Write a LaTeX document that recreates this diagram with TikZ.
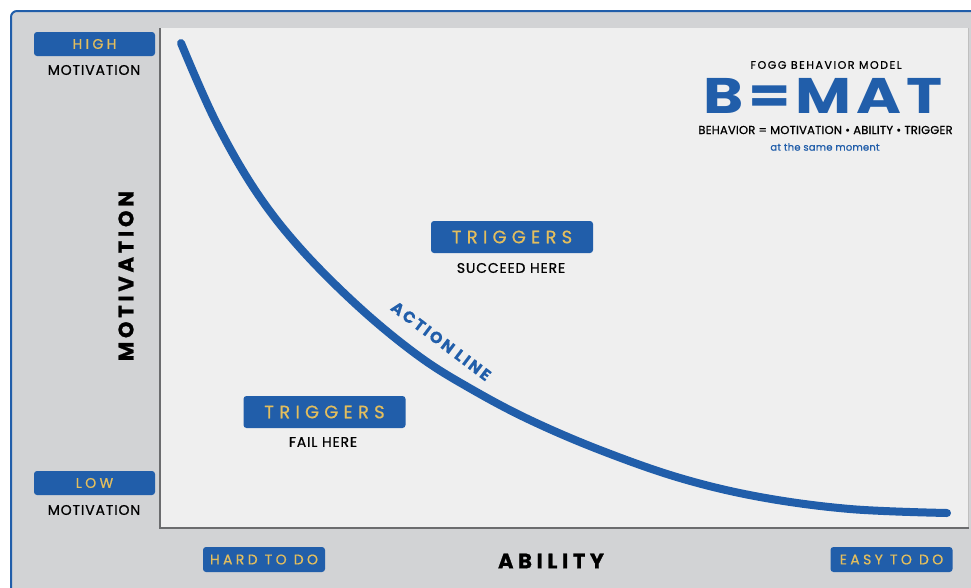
\documentclass[tikz,border=0pt]{standalone}
\usepackage{fontspec}
\setmainfont{Poppins}
\newfontfamily\fwide[LetterSpace=24,FakeBold=0.6]{Poppins}
\newfontfamily\fbig[LetterSpace=29,FakeBold=0.6]{Poppins}
\newfontfamily\fsemi[LetterSpace=6,FakeBold=0.8]{Poppins}
\newfontfamily\ftitle[LetterSpace=14,FakeBold=0.8]{Poppins}
\newfontfamily\feq[LetterSpace=2,FakeBold=0.8]{Poppins}
\newfontfamily\fact[LetterSpace=15,FakeBold=0.4]{Poppins}
\newfontfamily\fbold[LetterSpace=18,FakeBold=1]{Poppins}
\newfontfamily\fabil[LetterSpace=22,FakeBold=1]{Poppins}
\newfontfamily\fmat[LetterSpace=8]{Poppins}
\definecolor{bmblue}{HTML}{215EAA}
\definecolor{bmgold}{HTML}{E3BE5E}
\definecolor{bggray}{HTML}{D2D3D5}
\definecolor{panel}{HTML}{EFEFEF}
\definecolor{dkline}{HTML}{6B6C6E}
\begin{document}
\begin{tikzpicture}[x=1pt,y=-1pt,
  badge/.style={fill=bmblue, rounded corners=3pt, inner sep=0pt, minimum width=121pt, minimum height=24pt, text=bmgold, font=\fwide\fontsize{14}{14}\selectfont},
  bigbadge/.style={badge, minimum width=162pt, minimum height=32pt, font=\fbig\fontsize{18}{18}\selectfont},
  lbl/.style={inner sep=0pt, text=black, font=\fsemi\fontsize{14}{14}\selectfont},
  axislbl/.style={inner sep=0pt, text=black, font=\fbold\bfseries\fontsize{21}{21}\selectfont},
  curve/.style={bmblue, line width=8pt, line cap=round}]
\useasboundingbox (0,0) rectangle (971,587);
\fill[white] (0,0) rectangle (971,587);
\draw[bmblue, line width=2pt, fill=bggray, rounded corners=6pt] (11,11) rectangle (995,605);
\fill[panel] (160,28) rectangle (968,528);
\draw[black!25, line width=1pt] (968.5,28) -- (968.5,528);
\draw[dkline, line width=2pt] (160,28) -- (160,528) -- (969,528);

% axis labels
\node[badge] (high) at (94.5,44) {HIGH};
\node[lbl] (highm) at (94,70) {MOTIVATION};
\node[badge] (low) at (94.5,483) {LOW};
\node[lbl] (lowm) at (94,510) {MOTIVATION};
\node[badge, minimum width=122pt, minimum height=25pt] (hard) at (264,559.5) {HARD TO DO};
\node[badge, minimum width=122pt, minimum height=25pt] (easy) at (891.5,559.5) {EASY TO DO};
\node[axislbl, rotate=90] (mot) at (126,276) {MOTIVATION};
\node[axislbl, font=\fabil\bfseries\fontsize{21}{21}\selectfont] (abil) at (551,561) {ABILITY};

% curve
\draw[curve] plot[smooth, tension=0.6] coordinates {(181,43) (215,120) (255,190) (300,248) (360,308) (420,357) (473,390) (530,420) (600,450) (680,478) (760,497) (850,509) (947,513)};
\node[rotate=-37, inner sep=0pt, text=bmblue, font=\fact\bfseries\fontsize{16}{16}\selectfont] (action) at (441,341) {ACTION\hspace{5pt}LINE};

% triggers
\node[bigbadge] (trigup) at (512,237) {TRIGGERS};
\node[lbl] (succ) at (511,268) {SUCCEED HERE};
\node[bigbadge] (trigdn) at (324.5,412) {TRIGGERS};
\node[lbl] (fail) at (323,442) {FAIL HERE};

% title block
\node[inner sep=0pt, font=\ftitle\fontsize{11}{11}\selectfont] (fogg) at (826,65) {FOGG BEHAVIOR MODEL};
\node[inner sep=0pt, text=bmblue, xscale=1.22, font=\fmat\bfseries\fontsize{50}{50}\selectfont] (bmat) at (823,96) {B=MAT};
\node[inner sep=0pt, font=\feq\fontsize{11.5}{11.5}\selectfont] (eq) at (825.5,130) {BEHAVIOR = MOTIVATION • ABILITY • TRIGGER};
\node[inner sep=0pt, text=bmblue, font=\feq\fontsize{10}{10}\selectfont] (same) at (825,147) {at the same moment};
\end{tikzpicture}
\end{document}
